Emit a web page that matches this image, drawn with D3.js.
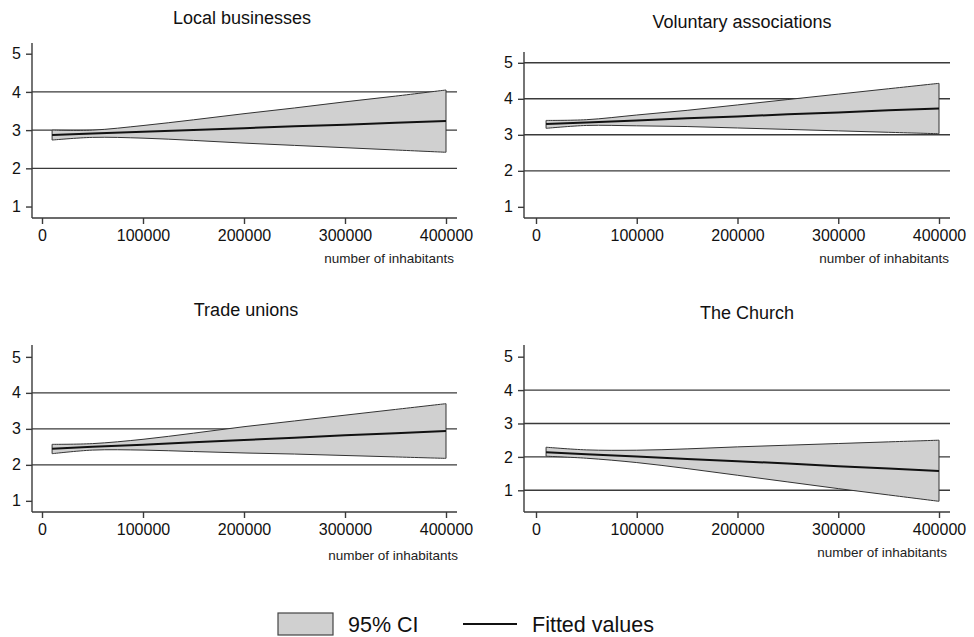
<!DOCTYPE html>
<html>
<head>
<meta charset="utf-8">
<script src="https://cdn.jsdelivr.net/npm/d3@7"></script>
<style>
  body { margin: 0; background: #fff; }
  svg { display: block; font-family: "Liberation Sans", Arial, sans-serif; }
</style>
</head>
<body>
<svg id="chart" width="974" height="637"></svg>
<script>
const inhabitants = [10000, 50000, 100000, 150000, 200000, 250000, 300000, 350000, 400000];

const panelTitles = ["Local businesses", "Voluntary associations", "Trade unions", "The Church"];

// fitted values and 95% CI bounds, one array per panel
const fitLocal   = [2.87, 2.91, 2.96, 3.00, 3.05, 3.10, 3.14, 3.19, 3.24];
const upperLocal = [3.00, 3.00, 3.12, 3.27, 3.43, 3.58, 3.74, 3.89, 4.05];
const lowerLocal = [2.74, 2.81, 2.79, 2.73, 2.66, 2.60, 2.54, 2.48, 2.42];

const fitVoluntary   = [3.30, 3.34, 3.40, 3.46, 3.51, 3.57, 3.62, 3.68, 3.73];
const upperVoluntary = [3.40, 3.42, 3.55, 3.68, 3.83, 3.98, 4.13, 4.28, 4.43];
const lowerVoluntary = [3.18, 3.26, 3.25, 3.23, 3.19, 3.15, 3.11, 3.07, 3.03];

const fitUnions   = [2.45, 2.50, 2.56, 2.63, 2.69, 2.75, 2.82, 2.88, 2.94];
const upperUnions = [2.57, 2.59, 2.71, 2.88, 3.06, 3.22, 3.38, 3.54, 3.70];
const lowerUnions = [2.31, 2.41, 2.41, 2.37, 2.33, 2.30, 2.26, 2.22, 2.18];

const fitChurch   = [2.14, 2.08, 2.01, 1.94, 1.87, 1.80, 1.72, 1.65, 1.58];
const upperChurch = [2.29, 2.21, 2.20, 2.24, 2.30, 2.35, 2.40, 2.45, 2.50];
const lowerChurch = [2.02, 1.96, 1.83, 1.65, 1.45, 1.25, 1.05, 0.86, 0.67];

const xTicks = [0, 100000, 200000, 300000, 400000];
const yTicks = [1, 2, 3, 4, 5];
const gridLocal = [2, 3, 4];
const gridVoluntary = [2, 3, 4, 5];
const gridUnions = [2, 3, 4];
const gridChurch = [1, 2, 3, 4];

const legendLabels = ["95% CI", "Fitted values"];

// layout of the four panels (pixel boxes)
const panels = [
  { fit: fitLocal, upper: upperLocal, lower: lowerLocal, grid: gridLocal,
    x0: 42, x1: 446, axisL: 32, axisR: 457, yB: 218, yT: 43, dom: [0.7, 5.28],
    titleX: 242, titleY: 24, noteX: 454, noteY: 263 },
  { fit: fitVoluntary, upper: upperVoluntary, lower: lowerVoluntary, grid: gridVoluntary,
    x0: 536, x1: 939, axisL: 524, axisR: 950, yB: 218, yT: 52, dom: [0.69, 5.3],
    titleX: 742, titleY: 28, noteX: 949, noteY: 263 },
  { fit: fitUnions, upper: upperUnions, lower: lowerUnions, grid: gridUnions,
    x0: 42, x1: 446, axisL: 32, axisR: 457, yB: 512, yT: 345, dom: [0.69, 5.33],
    titleX: 246, titleY: 316, noteX: 458, noteY: 560 },
  { fit: fitChurch, upper: upperChurch, lower: lowerChurch, grid: gridChurch,
    x0: 536, x1: 939, axisL: 524, axisR: 950, yB: 512, yT: 345, dom: [0.35, 5.35],
    titleX: 747, titleY: 319, noteX: 947, noteY: 557 }
];

const svg = d3.select("#chart");
const bandFill = "#d0d0d0";
const lineCol = "#3a3a3a";

panels.forEach((p, i) => {
  const x = d3.scaleLinear().domain([0, 400000]).range([p.x0, p.x1]);
  const y = d3.scaleLinear().domain(p.dom).range([p.yB, p.yT]);
  const g = svg.append("g");

  // horizontal grid lines
  g.selectAll("line.grid")
    .data(p.grid)
    .join("line")
      .attr("class", "grid")
      .attr("x1", p.axisL).attr("x2", p.axisR)
      .attr("y1", d => y(d)).attr("y2", d => y(d))
      .attr("stroke", lineCol)
      .attr("stroke-width", 1.4);

  const rows = inhabitants.map((v, k) => ({ x: v, fit: p.fit[k], lo: p.lower[k], hi: p.upper[k] }));

  // CI band
  const area = d3.area()
    .x(d => x(d.x))
    .y0(d => y(d.lo))
    .y1(d => y(d.hi))
    .curve(d3.curveCatmullRom);
  g.append("path")
    .datum(rows)
    .attr("d", area)
    .attr("fill", bandFill)
    .attr("stroke", "#333")
    .attr("stroke-width", 1)
    .attr("stroke-linejoin", "miter");

  // fitted line
  const line = d3.line()
    .x(d => x(d.x))
    .y(d => y(d.fit));
  g.append("path")
    .datum(rows)
    .attr("d", line)
    .attr("fill", "none")
    .attr("stroke", "#111")
    .attr("stroke-width", 2);

  // y axis
  const yAxis = g.append("g")
    .attr("transform", `translate(${p.axisL},0)`)
    .call(d3.axisLeft(y).tickValues(yTicks).tickFormat(d3.format("d")).tickSize(6).tickSizeOuter(0).tickPadding(5));
  yAxis.select(".domain").remove();
  yAxis.selectAll(".tick line").attr("stroke", lineCol).attr("stroke-width", 1.4);
  yAxis.selectAll(".tick text").attr("fill", "#111").style("font-size", "16px")
    .style("font-family", "'Liberation Sans', Arial, sans-serif");
  g.append("line")
    .attr("x1", p.axisL).attr("x2", p.axisL)
    .attr("y1", p.yT).attr("y2", p.yB)
    .attr("stroke", lineCol).attr("stroke-width", 1.4);

  // x axis
  const xAxis = g.append("g")
    .attr("transform", `translate(0,${p.yB})`)
    .call(d3.axisBottom(x).tickValues(xTicks).tickFormat(d3.format("d")).tickSize(6).tickSizeOuter(0).tickPadding(6));
  xAxis.select(".domain").remove();
  xAxis.selectAll(".tick line").attr("stroke", lineCol).attr("stroke-width", 1.4);
  xAxis.selectAll(".tick text").attr("fill", "#111").style("font-size", "16px")
    .style("font-family", "'Liberation Sans', Arial, sans-serif");
  g.append("line")
    .attr("x1", p.axisL).attr("x2", p.axisR)
    .attr("y1", p.yB).attr("y2", p.yB)
    .attr("stroke", lineCol).attr("stroke-width", 1.4);

  // title + axis note
  g.append("text")
    .attr("x", p.titleX).attr("y", p.titleY)
    .attr("text-anchor", "middle")
    .attr("fill", "#111")
    .style("font-size", "18px")
    .text(panelTitles[i]);
  g.append("text")
    .attr("x", p.noteX).attr("y", p.noteY)
    .attr("text-anchor", "end")
    .attr("fill", "#222")
    .style("font-size", "13.5px")
    .text("number of inhabitants");
});

// legend
const leg = svg.append("g");
leg.append("rect")
  .attr("x", 278).attr("y", 613).attr("width", 55).attr("height", 22)
  .attr("fill", bandFill).attr("stroke", "#444").attr("stroke-width", 1.2);
leg.append("text")
  .attr("x", 348).attr("y", 632)
  .attr("fill", "#111").style("font-size", "21.5px")
  .text(legendLabels[0]);
leg.append("line")
  .attr("x1", 463).attr("x2", 517).attr("y1", 624).attr("y2", 624)
  .attr("stroke", "#111").attr("stroke-width", 1.8);
leg.append("text")
  .attr("x", 532).attr("y", 632)
  .attr("fill", "#111").style("font-size", "21.5px")
  .text(legendLabels[1]);
</script>
</body>
</html>
